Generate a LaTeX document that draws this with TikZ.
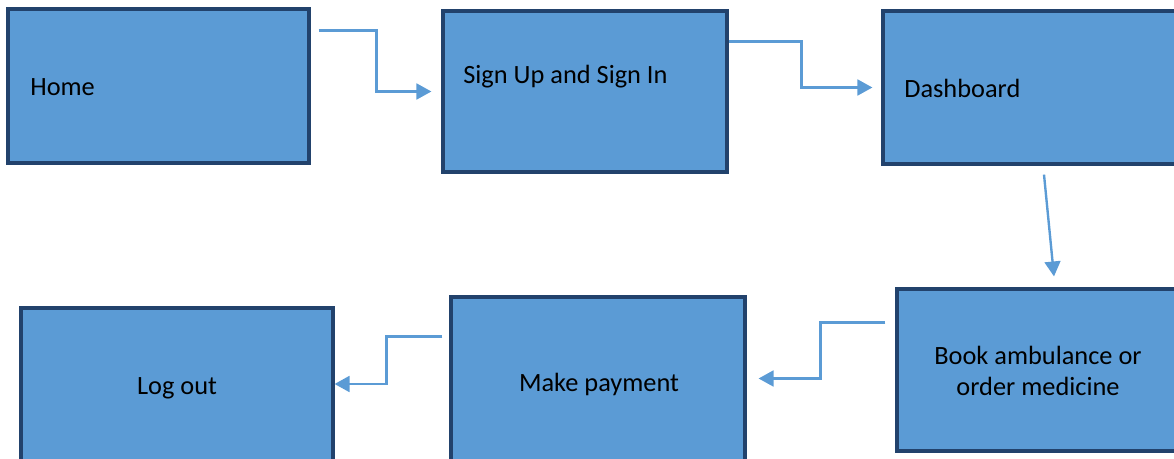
\documentclass[tikz,border=0pt]{standalone}
\usepackage{fontspec}
\setmainfont{Carlito}
\usepackage{tikz}
\usetikzlibrary{calc, fit, arrows.meta}

\definecolor{boxfill}{RGB}{91,155,213}
\definecolor{boxline}{RGB}{34,66,108}
\definecolor{linkcol}{RGB}{91,155,213}

\tikzset{
	box/.style = {draw=boxline, line width=1.8pt, fill=boxfill, inner sep=0pt},
	lbl/.style = {font=\fontsize{15}{18}\selectfont, inner sep=0pt},
	link/.style = {draw=linkcol, line width=1.35pt, -{Triangle[length=8.5pt, width=9pt]}}
}

\begin{document}
\begin{tikzpicture}[x=0.02cm, y=-0.02cm]
			\useasboundingbox (0,0) rectangle (1174,459);
			\clip (0,0) rectangle (1174,459);

			% top row
			\node [box, fit={(8,9) (309,163)}] (home) {};
			\node [box, fit={(443,11) (727,172)}] (sign) {};
			\node [box, fit={(883,11) (1180,164)}] (dash) {};

			% bottom row
			\node [box, fit={(897,289) (1180,451)}] (book) {};
			\node [box, fit={(451,297) (745,470)}] (pay) {};
			\node [box, fit={(21,308) (333,470)}] (logout) {};

			\begin{scope}[lbl]
				\node [anchor=base west] (homet) at (30,96) {Home};
				\node [anchor=base west] (signt) at (463,84) {Sign Up and Sign In};
				\node [anchor=base west] (dasht) at (904,98) {Dashboard};
				\node [align=center] (bookt) at (1038,371) {Book ambulance or\\order medicine};
				\node [anchor=base] (payt) at (599,392) {Make payment};
				\node [anchor=base] (logoutt) at (177,395) {Log out};
			\end{scope}

			\begin{scope}[link]
				\draw ($(home.north east)+(8,23)$) -- ++(58,0) |- ($(sign.west)+(-10,0)$);
				\draw ($(sign.north east)+(0,32)$) -- ++(73,0) |- ($(dash.west)+(-9,0)$);
				\draw ($(dash.south)+(12.5,9)$) -- ($(book.north)+(15.5,-11)$);
				\draw ($(book.north west)+(-10,35)$) -- ++(-65,0) |- ($(pay.east)+(12,-5)$);
				\draw ($(pay.north west)+(-7,41)$) -- ++(-56,0) |- ($(logout.east)+(0,-5)$);
			\end{scope}
		\end{tikzpicture}
\end{document}
